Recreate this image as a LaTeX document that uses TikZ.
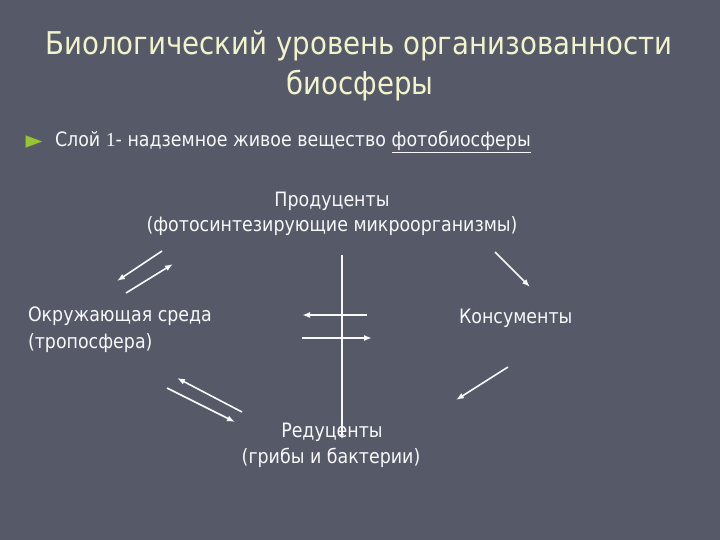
\documentclass[tikz,border=0pt]{standalone}
\usepackage{fontspec}
\setmainfont[FakeStretch=0.88]{DejaVu Sans}
\newfontfamily\numfont{Liberation Serif}
\usepackage{xcolor}
\usepackage{tikz}
\usetikzlibrary{arrows.meta}
\definecolor{bsSlate}{RGB}{85, 89, 104}
\definecolor{bsCream}{RGB}{242, 242, 205}
\definecolor{bsWhite}{RGB}{248, 248, 248}
\definecolor{bsGreen}{RGB}{150, 196, 50}
\tikzset{
    base/.style={
        inner sep=0pt,
        outer sep=0pt
    },
    heading/.style={
        base,
        anchor=base,
        font=\fontsize{31.4}{36}\selectfont,
        text=bsCream
    },
    body/.style={
        base,
        anchor=base west,
        font=\fontsize{19.8}{24}\selectfont,
        text=bsWhite
    },
    centred/.style={
        body,
        anchor=base
    },
    marker/.style={
        base,
        font=\fontsize{25}{25}\selectfont,
        text=bsGreen
    },
    cycle/.style={
        -{Latex[length=8pt,width=6pt]},
        line width=1.6pt,
        color=bsWhite
    },
    axis/.style={
        -{Latex[length=5pt,width=4pt]},
        line width=1.2pt,
        color=bsWhite
    }
}

\begin{document}
\begin{tikzpicture}[x=1pt, y=-1pt]
  \fill[bsSlate] (0,0) rectangle (720,540);

  % Title
  \node[heading] (title) at (359,55) {Биологический уровень организованности};
  \node[heading] (titletail) at (360,95) {биосферы};

  % Bullet line
  \node[marker] (mark) at (34,142) {►};
  \node[body] (layer) at (55,147) {Слой {\numfont 1}- надземное живое вещество \underline{фотобиосферы}};

  % Members of the cycle
  \node[centred] (prod) at (332,207) {Продуценты};
  \node[centred] (prodnote) at (332,232) {(фотосинтезирующие микроорганизмы)};
  \node[body] (env) at (28,321) {Окружающая среда};
  \node[body] (envnote) at (28,348) {(тропосфера)};
  \node[body] (cons) at (459,323) {Консументы};
  \node[centred] (red) at (332,437) {Редуценты};
  \node[centred] (rednote) at (331,463) {(грибы и бактерии)};

  % Arrow ends
  \coordinate (toEnvS) at (162,251);
  \coordinate (toEnvE) at (117,281);
  \coordinate (toProdS) at (126,293);
  \coordinate (toProdE) at (173,264);
  \coordinate (upEnvS) at (242,412);
  \coordinate (upEnvE) at (177,378);
  \coordinate (downRedS) at (167,388);
  \coordinate (downRedE) at (235,422);
  \coordinate (toConsS) at (495,252);
  \coordinate (toConsE) at (530,287);
  \coordinate (fromConsS) at (508,367);
  \coordinate (fromConsE) at (456,400);
  \coordinate (leftS) at (367,315);
  \coordinate (leftE) at (302,315);
  \coordinate (rightS) at (302,338);
  \coordinate (rightE) at (372,338);
  \coordinate (stemS) at (342,255);
  \coordinate (stemE) at (342,439);

  % Arrows
  \draw[cycle] (toEnvS) -- (toEnvE);
  \draw[cycle] (toProdS) -- (toProdE);
  \draw[cycle] (upEnvS) -- (upEnvE);
  \draw[cycle] (downRedS) -- (downRedE);
  \draw[cycle] (toConsS) -- (toConsE);
  \draw[cycle] (fromConsS) -- (fromConsE);
  \draw[cycle] (leftS) -- (leftE);
  \draw[cycle, line width=2.2pt] (rightS) -- (rightE);
  \draw[axis] (stemS) -- (stemE);
\end{tikzpicture}
\end{document}
